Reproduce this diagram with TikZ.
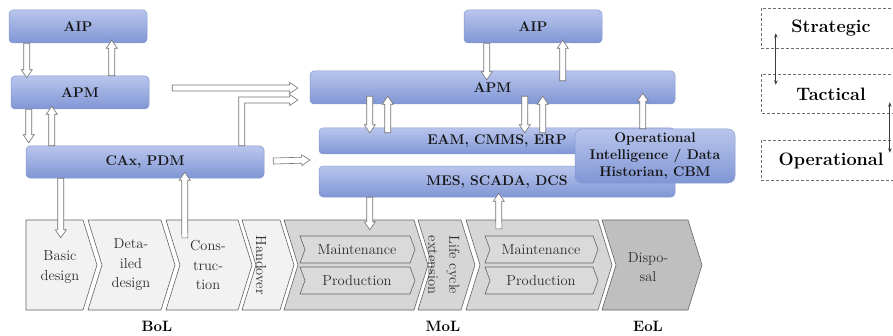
\documentclass[tikz,border=0pt]{standalone}
\usepackage{fontspec}
\usetikzlibrary{calc,arrows.meta}
\definecolor{boxtop}{RGB}{184,197,236}
\definecolor{boxbot}{RGB}{128,150,213}
\definecolor{boxedge}{RGB}{134,153,210}
\definecolor{arrgray}{RGB}{115,115,115}
\definecolor{chevedge}{RGB}{100,100,100}
\definecolor{bolfill}{RGB}{242,242,242}
\definecolor{molfill}{RGB}{214,214,214}
\definecolor{molin}{RGB}{218,218,218}
\definecolor{eolfill}{RGB}{191,191,191}
\definecolor{chevtext}{RGB}{45,45,45}
\definecolor{legline}{RGB}{110,110,110}
\definecolor{legarrow}{RGB}{60,60,60}
\newcommand\mychev[8]{%
  \node[inner sep=0pt, minimum width={#4-#3}, minimum height={#5-#6}] (#2) at ({(#3+#4)/2},{(#5+#6)/2}) {};
  \draw[#1] (#3,#5) -- (#4,#5) -- ({#4+#8},{(#5+#6)/2}) -- (#4,#6) -- (#3,#6) -- ({#3+#7},{(#5+#6)/2}) -- cycle;
}
\tikzset{
  bluebox/.style={rectangle, rounded corners=4pt, draw=boxedge, line width=0.5pt,
    top color=boxtop, bottom color=boxbot, inner sep=0pt, align=center,
    font=\bfseries\fontsize{14}{17}\selectfont, text=black!92},
  bol/.style={draw=chevedge, fill=bolfill, line width=0.6pt, line join=miter},
  mol/.style={draw=chevedge, fill=molfill, line width=0.6pt, line join=miter},
  eol/.style={draw=chevedge, fill=eolfill, line width=0.6pt, line join=miter},
  inner/.style={draw=chevedge, fill=molin, line width=0.6pt, line join=miter},
  chevtxt/.style={inner sep=0pt, align=center, text=chevtext, font=\fontsize{14.5}{19.5}\selectfont},
  phase/.style={inner sep=0pt, font=\bfseries\fontsize{15}{17}\selectfont},
  legbox/.style={inner sep=0pt, minimum width=140pt, font=\bfseries\fontsize{18}{21}\selectfont},
  legdash/.style={draw=legline, line width=0.6pt, dash pattern=on 3pt off 2pt},
  legarr/.style={draw=legarrow, line width=0.8pt, {Stealth[length=4.5pt,width=3.5pt]}-{Stealth[length=4.5pt,width=3.5pt]}},
  barrow/.style={draw=arrgray, fill=white, line width=0.6pt, line join=miter,
    to path={let \p1=(\tikztostart), \p2=(\tikztotarget),
      \n1={veclen(\x2-\x1,\y2-\y1)}, \n2={atan2(\y2-\y1,\x2-\x1)} in
      ([shift={(\p1)},rotate=\n2]0pt,3pt) -- ([shift={(\p1)},rotate=\n2]\n1-8pt,3pt)
      -- ([shift={(\p1)},rotate=\n2]\n1-8pt,5.5pt) -- ([shift={(\p1)},rotate=\n2]\n1,0pt)
      -- ([shift={(\p1)},rotate=\n2]\n1-8pt,-5.5pt) -- ([shift={(\p1)},rotate=\n2]\n1-8pt,-3pt)
      -- ([shift={(\p1)},rotate=\n2]0pt,-3pt) -- cycle}},
  bentarrow/.style={draw=arrgray, fill=white, line width=0.6pt, line join=miter}
}
\begin{document}
\begin{tikzpicture}[x=1pt,y=1pt]
\useasboundingbox (0,0) rectangle (893,335);

% ---------- blue boxes ----------
\node[bluebox, minimum width=138pt, minimum height=33pt] (aipL) at (78,308.5) {AIP};
\node[bluebox, minimum width=138pt, minimum height=33pt] (apmL) at (80,242.5) {APM};
\node[bluebox, minimum width=238pt, minimum height=32pt] (cax) at (145,173) {CAx, PDM};
\node[bluebox, minimum width=138pt, minimum height=33pt] (aipR) at (533,308.5) {AIP};
\node[bluebox, minimum width=365pt, minimum height=33pt] (apmR) at (492.5,247.5) {APM};
\node[bluebox, minimum width=356pt, minimum height=26pt] (eam) at (497,194) {EAM, CMMS, ERP};
\node[bluebox, minimum width=356pt, minimum height=31pt] (mes) at (497,153.5) {MES, SCADA, DCS};
\node[bluebox, minimum width=160pt, minimum height=54pt, rounded corners=7pt] (opi) at (655,179)
  {Operational\\Intelligence / Data\\Historian, CBM};

% ---------- chevrons ----------
\mychev{bol}{basic}{26}{83}{115}{25}{0}{14}
\mychev{bol}{detail}{88}{161}{115}{25}{14}{14}
\mychev{bol}{constr}{166}{238}{115}{25}{14}{14}
\mychev{bol}{handover}{242}{280}{115}{25}{14}{14}
\mychev{mol}{mol1}{284}{414}{115}{25}{14}{14}
\mychev{mol}{lce}{418}{461}{115}{25}{14}{14}
\mychev{mol}{mol2}{466}{598}{115}{25}{14}{14}
\mychev{eol}{disp}{602}{688}{115}{25}{14}{14}
\mychev{inner}{maint1}{300}{410}{99}{72}{5}{5}
\mychev{inner}{prod1}{300}{410}{68}{41}{5}{5}
\mychev{inner}{maint2}{485}{593}{99}{72}{5}{5}
\mychev{inner}{prod2}{485}{593}{68}{41}{5}{5}

\node[chevtxt] (tbasic) at (60,68) {Basic\\design};
\node[chevtxt] (tdetail) at (131,70) {Deta-\\iled\\design};
\node[chevtxt] (tconstr) at (208,70) {Cons-\\truc-\\tion};
\node[chevtxt, rotate=-90] (thand) at (261,70) {Handover};
\node[chevtxt] (tmaint1) at (357,85.5) {Maintenance};
\node[chevtxt] (tprod1) at (357,54.5) {Production};
\node[chevtxt, rotate=-90, font=\fontsize{14.5}{21}\selectfont] (tlce) at (444,70) {Life cycle\\extension};
\node[chevtxt] (tmaint2) at (541,85.5) {Maintenance};
\node[chevtxt] (tprod2) at (541,54.5) {Production};
\node[chevtxt] (tdisp) at (648,68) {Dispo-\\sal};

\node[phase] (bol) at (157,9) {BoL};
\node[phase] (mol) at (443,9) {MoL};
\node[phase] (eol) at (648,9) {EoL};

% ---------- block arrows ----------
\path[barrow] ([xshift=18pt]aipL.south west) to ([xshift=16pt,yshift=-2pt]apmL.north west);
\path[barrow] ([xshift=101pt]apmL.north west) to ([xshift=103pt,yshift=3pt]aipL.south west);
\path[barrow] ([xshift=18pt]apmL.south west) to ([xshift=3pt,yshift=3pt]cax.north west);
\path[barrow] ([xshift=26pt]cax.north west) to ([xshift=41pt,yshift=3pt]apmL.south west);
\path[barrow] ([xshift=23pt,yshift=4.5pt]apmL.east) to ([xshift=-12pt,yshift=-0.5pt]apmR.west);
\coordinate (bs) at ([xshift=216pt]cax.north west);
\coordinate (be) at ([xshift=-12pt,yshift=-12.5pt]apmR.west);
\path[bentarrow] let \p1=(bs), \p2=(be) in
  (\x1-3pt,\y1) -- (\x1-3pt,\y2+3pt) -- (\x2-8pt,\y2+3pt) -- (\x2-8pt,\y2+5.5pt) -- (\p2)
  -- (\x2-8pt,\y2-5.5pt) -- (\x2-8pt,\y2-3pt) -- (\x1+3pt,\y2-3pt) -- (\x1+3pt,\y1) -- cycle;
\path[barrow] ([xshift=9pt,yshift=1pt]cax.east) to ($(eam.south west)!.5!(mes.north west)+(-9,0)$);
\path[barrow] ([xshift=35pt]cax.south west) to ([xshift=35pt,yshift=-18pt]basic.north west);
\path[barrow] ([xshift=19pt,yshift=-18pt]constr.north west) to ([xshift=159pt,yshift=6pt]cax.south west);
\path[barrow] ([xshift=23pt]aipR.south west) to ([xshift=177pt,yshift=-9pt]apmR.north west);
\path[barrow] ([xshift=253pt,yshift=-10pt]apmR.north west) to ([xshift=99pt,yshift=3pt]aipR.south west);
\path[barrow] ([xshift=60pt,yshift=8pt]apmR.south west) to ([xshift=51pt,yshift=-5pt]eam.north west);
\path[barrow] ([xshift=69pt,yshift=-5pt]eam.north west) to ([xshift=78pt,yshift=8pt]apmR.south west);
\path[barrow] ([xshift=215pt,yshift=8pt]apmR.south west) to ([xshift=206pt,yshift=-5pt]eam.north west);
\path[barrow] ([xshift=224pt,yshift=-5pt]eam.north west) to ([xshift=233pt,yshift=8pt]apmR.south west);
\path[barrow] ([xshift=68pt]opi.north west) to ([xshift=333pt,yshift=11pt]apmR.south west);
\path[barrow] ([xshift=51pt]mes.south west) to ([xshift=86pt,yshift=-10pt]mol1.north west);
\path[barrow] ([xshift=33pt,yshift=-9pt]mol2.north west) to ([xshift=180pt,yshift=4pt]mes.south west);

% ---------- legend ----------
\node[legbox, minimum height=39pt] (strat) at (831,306.5) {Strategic};
\node[legbox, minimum height=38pt] (tact) at (831,241) {Tactical};
\node[legbox, minimum height=39pt] (oper) at (831,174.5) {Operational};
\foreach \b in {strat,tact,oper}{
  \draw[legdash] (\b.north east) -- (\b.north west) -- (\b.south west) -- (\b.south east);
}
\draw[legarr] ([xshift=15pt,yshift=15pt]strat.south west) -- ([xshift=15pt,yshift=-10pt]tact.north west);
\draw[legarr] ([xshift=129pt,yshift=11pt]tact.south west) -- ([xshift=129pt,yshift=-12pt]oper.north west);
\end{tikzpicture}
\end{document}
